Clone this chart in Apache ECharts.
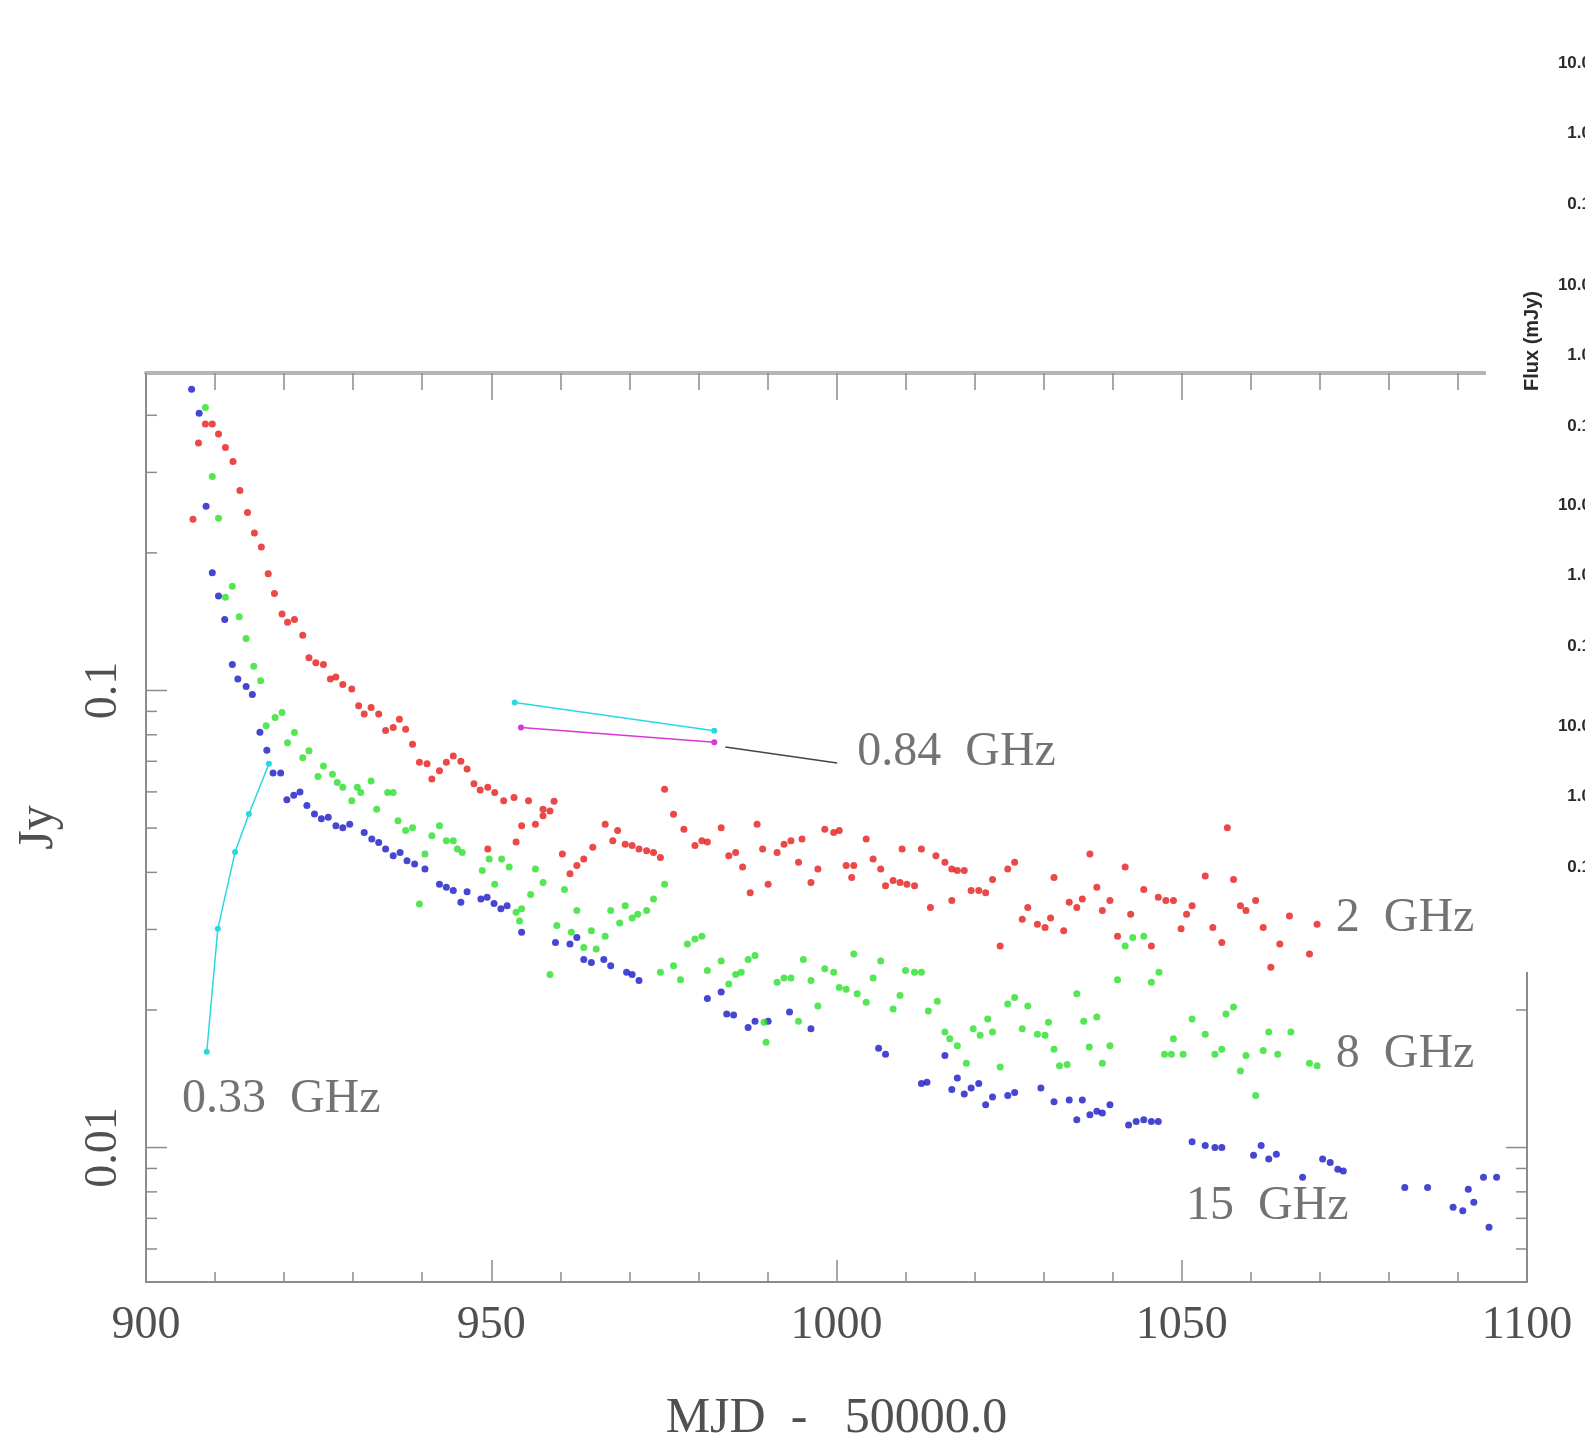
<!DOCTYPE html>
<html>
<head>
<meta charset="utf-8">
<script src="https://cdn.jsdelivr.net/npm/echarts@6/dist/echarts.min.js"></script>
<style>
  html, body { margin: 0; padding: 0; background: #ffffff; }
  #chart { width: 1585px; height: 1439px; }
</style>
</head>
<body>
<div id="chart"></div>
<script>
// Axis extents and tick values
const dayRange = [900, 1100];
const fluxRange = [0.00508, 0.495];
const dayTickInterval = 50;
const fluxMajorTicks = [0.01, 0.1];
const fluxMinorTicks = [0.006, 0.007, 0.008, 0.009, 0.02, 0.03, 0.04, 0.05, 0.06, 0.07, 0.08, 0.09, 0.2, 0.3, 0.4];

// 2 GHz light curve [MJD-50000, Jy]
const flux2GHz = [
  [906.8,0.237],[907.6,0.348],[908.6,0.383],[909.6,0.383],[910.5,0.364],[911.5,0.340],[912.6,0.317],[913.6,0.274],
  [914.7,0.245],[915.7,0.221],[916.7,0.206],[917.7,0.180],[918.6,0.163],[919.7,0.147],[920.5,0.141],[921.5,0.143],
  [922.7,0.132],[923.6,0.118],[924.6,0.115],[925.7,0.114],[926.7,0.106],[927.5,0.107],[928.5,0.103],[929.8,0.1007],
  [930.8,0.0926],[931.6,0.0888],[932.6,0.0918],[933.7,0.0888],[934.7,0.0817],[935.8,0.0830],[936.7,0.0865],[937.6,0.0823],
  [938.6,0.0763],[939.6,0.0697],[940.7,0.0691],[941.4,0.0640],[942.5,0.0667],[943.5,0.0697],[944.5,0.0719],[945.6,0.0700],
  [946.5,0.0673],[947.5,0.0625],[948.4,0.0606],[949.5,0.0614],[950.5,0.0598],[951.8,0.0574],[953.3,0.0583],[955.4,0.0574],
  [957.5,0.0550],[959.1,0.0572],[949.5,0.0450],[953.6,0.0466],[954.4,0.0506],[956.4,0.0510],[957.5,0.0532],[958.5,0.0545],
  [960.3,0.0439],[961.4,0.0397],[962.4,0.0414],[963.4,0.0428],[964.7,0.0454],[966.5,0.0510],[967.6,0.0469],[968.3,0.0494],
  [969.4,0.0461],[970.4,0.0458],[971.4,0.0450],[972.5,0.0446],[973.5,0.0442],[974.5,0.0431],[975.1,0.0608],[976.4,0.0536],
  [977.9,0.0497],[979.5,0.0458],[980.5,0.0469],[981.3,0.0466],[983.3,0.0501],[984.4,0.0435],[985.4,0.0442],[986.4,0.0411],
  [987.5,0.0361],[988.5,0.0510],[989.3,0.0450],[990.1,0.0377],[991.4,0.0442],[992.4,0.0461],[993.4,0.0469],[994.5,0.0421],
  [995.0,0.0473],[996.3,0.0380],[997.3,0.0407],[998.3,0.0497],[999.6,0.0489],[1000.4,0.0494],[1001.4,0.0414],[1002.2,0.0390],
  [1002.5,0.0414],[1004.3,0.0473],[1005.3,0.0428],[1006.4,0.0407],[1007.1,0.0374],[1008.2,0.0384],[1009.2,0.0380],[1009.5,0.0450],
  [1010.2,0.0377],[1011.3,0.0374],[1012.3,0.0450],[1013.6,0.0335],[1014.4,0.0435],[1015.7,0.0421],[1016.7,0.0407],[1016.7,0.0347],
  [1017.5,0.0404],[1018.5,0.0404],[1019.5,0.0365],[1020.6,0.0365],[1021.6,0.0361],[1022.6,0.0386],[1023.7,0.0276],[1024.8,0.0407],
  [1025.8,0.0421],[1026.9,0.0316],[1027.7,0.0335],[1029.1,0.0308],[1030.2,0.0303],[1031.0,0.0318],[1031.5,0.0390],[1032.9,0.0298],
  [1033.7,0.0344],[1034.8,0.0335],[1035.6,0.0350],[1036.7,0.0439],[1037.7,0.0371],[1038.5,0.0330],[1039.6,0.0347],[1040.7,0.0290],
  [1041.8,0.0411],[1042.6,0.0324],[1044.5,0.0367],[1045.6,0.0276],[1046.6,0.0353],[1047.7,0.0347],[1048.8,0.0347],[1049.9,0.0301],
  [1050.7,0.0324],[1051.5,0.0338],[1053.4,0.0393],[1054.5,0.0303],[1055.8,0.0281],[1056.6,0.0501],[1057.5,0.0386],[1058.5,0.0338],
  [1059.3,0.0330],[1060.7,0.0347],[1061.8,0.0303],[1062.9,0.0248],[1064.2,0.0279],[1065.6,0.0321],[1068.5,0.0265],[1069.6,0.0308]
];

// 8 GHz light curve
const flux8GHz = [
  [908.6,0.416],[909.6,0.294],[910.5,0.238],[911.5,0.160],[912.5,0.169],[913.5,0.145],[914.5,0.130],[915.6,0.113],
  [916.6,0.105],[917.4,0.0837],[918.7,0.0873],[919.7,0.0895],[920.5,0.0769],[921.5,0.0809],[922.7,0.0713],[923.6,0.0738],
  [924.9,0.0648],[925.7,0.0684],[927.0,0.0656],[927.7,0.0629],[928.5,0.0614],[929.8,0.0574],[930.6,0.0614],[931.1,0.0598],
  [932.6,0.0634],[933.4,0.0550],[935.0,0.0598],[935.8,0.0598],[936.5,0.0519],[937.6,0.0494],[938.6,0.0501],[939.6,0.0341],
  [940.4,0.0439],[941.4,0.0481],[942.5,0.0506],[943.5,0.0469],[944.5,0.0469],[945.1,0.0450],[945.8,0.0442],[948.7,0.0404],
  [949.7,0.0428],[950.5,0.0377],[951.5,0.0428],[952.6,0.0411],[953.6,0.0327],[954.1,0.0313],[954.4,0.0333],[955.7,0.0358],
  [956.4,0.0407],[957.5,0.0380],[958.5,0.0239],[959.5,0.0306],[960.6,0.0367],[961.6,0.0296],[962.4,0.0330],[963.4,0.0274],
  [964.5,0.0298],[965.2,0.0272],[966.5,0.0290],[967.3,0.0330],[968.6,0.0310],[969.4,0.0338],[970.4,0.0318],[971.2,0.0324],
  [972.5,0.0330],[973.5,0.0350],[974.5,0.0242],[975.1,0.0377],[976.4,0.0250],[977.4,0.0233],[978.4,0.0279],[979.5,0.0286],
  [980.5,0.0290],[981.3,0.0244],[983.3,0.0256],[984.4,0.0228],[985.4,0.0239],[986.2,0.0242],[987.2,0.0258],[988.2,0.0263],
  [989.5,0.0188],[989.8,0.0170],[991.4,0.0230],[992.4,0.0235],[993.4,0.0235],[994.5,0.0189],[995.2,0.0258],[996.3,0.0232],
  [997.3,0.0204],[998.3,0.0246],[999.6,0.0242],[1000.4,0.0224],[1001.4,0.0222],[1002.5,0.0265],[1003.0,0.0217],[1004.3,0.0208],
  [1005.3,0.0235],[1006.4,0.0256],[1008.2,0.0201],[1009.2,0.0215],[1010.0,0.0244],[1011.3,0.0242],[1012.3,0.0242],[1013.3,0.0199],
  [1014.6,0.0209],[1015.7,0.0179],[1016.4,0.0173],[1017.5,0.0167],[1018.8,0.0153],[1019.8,0.0182],[1020.8,0.0176],[1021.9,0.0191],
  [1022.6,0.0179],[1023.7,0.0150],[1024.8,0.0206],[1025.8,0.0213],[1026.9,0.0182],[1027.7,0.0204],[1029.1,0.0177],[1030.2,0.0176],
  [1030.7,0.0188],[1031.5,0.0164],[1032.3,0.0151],[1033.4,0.0152],[1034.8,0.0217],[1035.8,0.0189],[1036.6,0.0166],[1037.7,0.0193],
  [1038.5,0.0153],[1039.6,0.0167],[1040.7,0.0233],[1041.8,0.0276],[1042.9,0.0288],[1044.5,0.0290],[1045.6,0.0230],[1046.7,0.0242],
  [1047.5,0.0160],[1048.5,0.0160],[1048.8,0.0173],[1050.2,0.0160],[1051.5,0.0191],[1053.4,0.0177],[1054.8,0.0160],[1055.8,0.0164],
  [1056.4,0.0196],[1057.5,0.0203],[1058.5,0.0147],[1059.3,0.0159],[1060.7,0.0130],[1061.8,0.0163],[1062.6,0.0179],[1063.9,0.0160],
  [1065.8,0.0179],[1068.5,0.0153],[1069.6,0.0151]
];

// 15 GHz light curve
const flux15GHz = [
  [906.6,0.456],[907.7,0.404],[908.7,0.253],[909.6,0.181],[910.5,0.161],[911.4,0.143],[912.5,0.114],[913.3,0.106],
  [914.5,0.102],[915.4,0.098],[916.5,0.081],[917.5,0.074],[918.4,0.066],[919.5,0.066],[920.4,0.0577],[921.4,0.0590],
  [922.3,0.0600],[923.3,0.0560],[924.4,0.0537],[925.4,0.0524],[926.4,0.0528],[927.5,0.0506],[928.5,0.0501],[929.5,0.0510],
  [931.6,0.0489],[932.7,0.0473],[933.7,0.0465],[934.7,0.0450],[935.8,0.0435],[936.8,0.0442],[937.8,0.0424],[938.9,0.0417],
  [940.4,0.0407],[942.5,0.0377],[943.5,0.0371],[944.5,0.0365],[945.6,0.0344],[946.5,0.0363],[948.5,0.0350],[949.4,0.0353],
  [950.4,0.0342],[951.4,0.0333],[952.3,0.0338],[954.4,0.0296],[959.3,0.0281],[961.4,0.0279],[962.4,0.0288],[963.4,0.0258],
  [964.5,0.0254],[966.3,0.0258],[967.3,0.0250],[969.6,0.0242],[970.4,0.0239],[971.4,0.0232],[981.3,0.0212],[983.3,0.0219],
  [984.1,0.0196],[985.1,0.0195],[987.2,0.0183],[988.2,0.0189],[990.1,0.0189],[993.2,0.0198],[996.3,0.0182],[1006.1,0.0165],
  [1007.1,0.0160],[1012.3,0.0138],[1013.1,0.0139],[1015.7,0.0159],[1016.7,0.0134],[1017.5,0.0142],[1018.5,0.0131],[1019.5,0.0135],
  [1020.6,0.0138],[1021.6,0.0124],[1022.6,0.0129],[1024.8,0.0130],[1025.8,0.0132],[1029.6,0.0135],[1031.5,0.0126],[1033.7,0.0127],
  [1034.8,0.0115],[1035.6,0.0127],[1036.7,0.0118],[1037.7,0.0120],[1038.5,0.0119],[1039.6,0.0124],[1042.3,0.0112],[1043.4,0.0114],
  [1044.5,0.0115],[1045.6,0.0114],[1046.6,0.0114],[1051.5,0.0103],[1053.4,0.0101],[1054.8,0.0100],[1055.8,0.0100],[1060.4,0.00962],
  [1061.5,0.0101],[1062.6,0.00944],[1063.7,0.00967],[1067.5,0.00861],[1070.4,0.00944],[1071.5,0.00927],[1072.6,0.00897],[1073.4,0.00889],
  [1082.3,0.00818],[1085.6,0.00818],[1089.3,0.00740],[1090.7,0.00727],[1091.5,0.00811],[1092.3,0.00759],[1093.7,0.00861],[1094.5,0.00669],
  [1095.6,0.00861]
];

// 0.33 GHz and 0.84 GHz measurements (connected)
const flux033GHz = [[908.8,0.0162],[910.4,0.0301],[912.9,0.0443],[914.9,0.0537],[917.8,0.0691]];
const flux084GHzA = [[953.4,0.0941],[982.3,0.0816]];
const flux084GHzB = [[954.3,0.0830],[982.3,0.0770]];
const leader084 = [[983.9,0.0752],[1000.1,0.0694]];

// Band labels and where each one starts
const bandNames = ['0.33  GHz', '0.84  GHz', '2  GHz', '8  GHz', '15  GHz'];
const bandAnchors = [[905.2,0.01277],[1003.0,0.0733],[1072.3,0.0318],[1072.3,0.0160],[1050.6,0.00744]];

// Axis titles
const xTitle = 'MJD  -   50000.0';
const yTitle = 'Jy';

// Tick labels of the neighbouring panel strip at the right edge
const stripTickLabels = ['10.0', '1.0', '0.1'];
const stripTitle = 'Flux (mJy)';

const axisGray = '#8c8c8c';
const textGray = '#505050';
const serif = '"Liberation Serif", "DejaVu Serif", serif';
const sansBold = 'bold 17px "Liberation Sans", Arial, sans-serif';

const chart = echarts.init(document.getElementById('chart'), null, { renderer: 'canvas' });

const isDecade = v => Math.abs(Math.log10(v) - Math.round(Math.log10(v))) < 1e-6;

const baseX = {
  type: 'value', min: dayRange[0], max: dayRange[1], interval: dayTickInterval,
  splitLine: { show: false }, minorSplitLine: { show: false }
};
const baseY = {
  type: 'log', logBase: 10, min: fluxRange[0], max: fluxRange[1],
  splitLine: { show: false }, minorSplitLine: { show: false },
  axisTick: { show: false }
};

// white strip holding the neighbouring panel's labels
const stripGraphics = [
  { type: 'rect', x: 1486, y: 0, shape: { width: 99, height: 972 }, style: { fill: '#ffffff' }, z: 100 }
];
const stripTops = [63, 285, 505, 726];
const stripOffsets = [0, 70, 141];
stripTops.forEach(top => {
  stripTickLabels.forEach((t, i) => {
    stripGraphics.push({
      type: 'text', x: 1591, y: top + stripOffsets[i], z: 101,
      style: { text: t, font: sansBold, fill: '#2a2a2a', verticalAlign: 'middle', align: 'right' }
    });
  });
});
stripGraphics.push({
  type: 'text', x: 1532, y: 341, rotation: Math.PI / 2, z: 101,
  style: { text: stripTitle, font: 'bold 20px "Liberation Sans", Arial, sans-serif', fill: '#2a2a2a', align: 'center', verticalAlign: 'middle' }
});

const dot = (name, data, color) => ({
  name, type: 'scatter', data, symbol: 'circle', symbolSize: 7,
  itemStyle: { color }, z: 3, silent: true
});

const option = {
  animation: false,
  backgroundColor: '#ffffff',
  grid: { left: 146, right: 58, top: 373, bottom: 157, containLabel: false, outerBoundsMode: 'none' },
  xAxis: [
    Object.assign({}, baseX, {
      position: 'bottom',
      axisLine: { lineStyle: { color: axisGray, width: 2 } },
      axisTick: { inside: true, length: 22, lineStyle: { color: axisGray, width: 1.5 } },
      minorTick: { show: true, splitNumber: 5, length: 10, lineStyle: { color: axisGray, width: 1.5 } },
      axisLabel: { margin: 21, fontFamily: serif, fontSize: 46, color: textGray, formatter: v => String(v) },
      name: xTitle, nameLocation: 'middle', nameGap: 112, nameMoveOverlap: false,
      nameTextStyle: { fontFamily: serif, fontSize: 50, color: textGray }
    }),
    Object.assign({}, baseX, {
      position: 'top',
      axisLine: { lineStyle: { color: '#b4b4b4', width: 4 } },
      axisTick: { inside: true, length: 27, lineStyle: { color: axisGray, width: 1.5 } },
      minorTick: { show: true, splitNumber: 5, length: 17, lineStyle: { color: axisGray, width: 1.5 } },
      axisLabel: { show: false }
    })
  ],
  yAxis: [
    Object.assign({}, baseY, {
      position: 'left',
      axisLine: { lineStyle: { color: axisGray, width: 2 } },
      axisLabel: {
        rotate: 90, margin: 19, fontFamily: serif, fontSize: 46, color: textGray,
        showMinLabel: false, showMaxLabel: false,
        formatter: v => (isDecade(v) ? String(+v.toPrecision(3)) : '')
      },
      name: yTitle, nameLocation: 'middle', nameRotate: 90, nameGap: 82, nameMoveOverlap: false,
      nameTextStyle: { fontFamily: serif, fontSize: 50, color: textGray }
    }),
    Object.assign({}, baseY, {
      position: 'right',
      axisLine: { lineStyle: { color: axisGray, width: 2 } },
      axisLabel: { show: false }
    })
  ],
  graphic: stripGraphics,
  series: [
    {
      // log-axis tick marks on both vertical edges
      type: 'custom', silent: true, clip: false, z: 1,
      data: fluxMajorTicks.map(v => [dayRange[0], v, 1]).concat(fluxMinorTicks.map(v => [dayRange[0], v, 0])),
      encode: { x: 0, y: 1 },
      renderItem: (params, api) => {
        const v = api.value(1);
        const len = api.value(2) === 1 ? 21 : 11;
        const a = api.coord([dayRange[0], v]);
        const b = api.coord([dayRange[1], v]);
        const st = { stroke: axisGray, lineWidth: 1.5 };
        return {
          type: 'group', children: [
            { type: 'line', shape: { x1: a[0], y1: a[1], x2: a[0] + len, y2: a[1] }, style: st },
            { type: 'line', shape: { x1: b[0], y1: b[1], x2: b[0] - len, y2: b[1] }, style: st }
          ]
        };
      }
    },
    dot('15 GHz', flux15GHz, '#1818c8'),
    dot('8 GHz', flux8GHz, '#2ae02a'),
    dot('2 GHz', flux2GHz, '#e61a1a'),
    {
      name: '0.33 GHz', type: 'line', data: flux033GHz, symbol: 'circle', symbolSize: 6,
      lineStyle: { color: '#2ad8e0', width: 1.5 }, itemStyle: { color: '#2ad8e0' }, z: 4, silent: true
    },
    {
      name: '0.84 GHz a', type: 'line', data: flux084GHzA, symbol: 'circle', symbolSize: 6,
      lineStyle: { color: '#2ad8e0', width: 1.5 }, itemStyle: { color: '#2ad8e0' }, z: 4, silent: true
    },
    {
      name: '0.84 GHz b', type: 'line', data: flux084GHzB, symbol: 'circle', symbolSize: 6,
      lineStyle: { color: '#d838d8', width: 1.5 }, itemStyle: { color: '#d838d8' }, z: 4, silent: true
    },
    {
      name: 'leader', type: 'line', data: leader084, symbol: 'none',
      lineStyle: { color: '#444444', width: 1.5 }, z: 4, silent: true
    },
    {
      name: 'band labels', type: 'scatter', symbolSize: 0, silent: true, z: 5,
      data: bandAnchors.map((p, i) => ({ value: p, name: bandNames[i] })),
      label: {
        show: true, position: 'right', distance: 0, formatter: p => p.name,
        fontFamily: serif, fontSize: 48, color: textGray, align: 'left', verticalAlign: 'middle'
      }
    }
  ]
};

chart.setOption(option);
</script>
</body>
</html>
